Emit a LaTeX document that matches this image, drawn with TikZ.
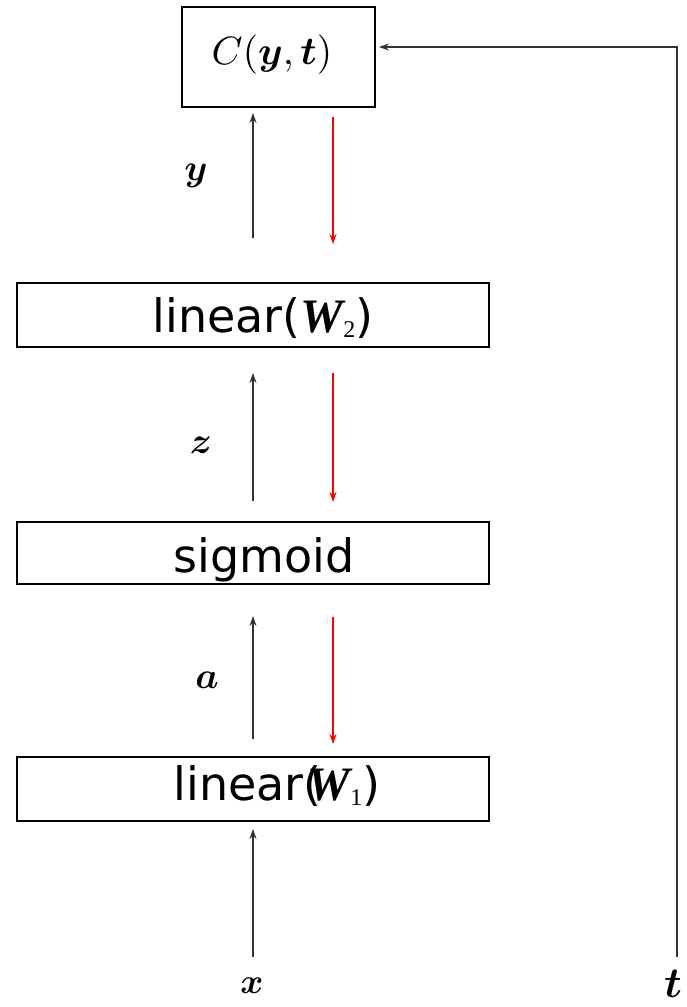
\documentclass[tikz,border=0pt]{standalone}
\usepackage{amsmath,bm}
\usepackage{graphicx}
\usepackage{fontspec}
\newfontfamily\boxfont{DejaVu Sans}
\newfontfamily\wfont{Liberation Serif}
\usetikzlibrary{arrows.meta,calc}
\tikzset{
  layerbox/.style={draw=black, line width=2pt, minimum width=472pt, inner sep=0pt},
  fwd/.style={-{Stealth[length=10pt,width=7pt]}, line width=1.3pt, black!80},
  bwd/.style={-{Stealth[length=10pt,width=7pt]}, line width=1.3pt, red},
  boxtxt/.style={font=\boxfont\fontsize{46}{50}\selectfont, inner sep=0pt, anchor=base},
  mlbl/.style={inner sep=0pt},
}
\newcommand{\Wsub}[1]{{\wfont\bfseries\itshape\fontsize{48}{50}\selectfont W}{\wfont\fontsize{24}{24}\selectfont\raisebox{-5pt}{#1}}}
\newcommand{\scaledmath}[2]{\scalebox{#1}{$#2$}}
\begin{document}
\begin{tikzpicture}[x=1pt,y=-1pt]
\useasboundingbox (0,0) rectangle (687,1007);
% boxes
\node[draw=black, line width=2pt, minimum width=193pt, minimum height=100pt, inner sep=0pt] (cost) at (278.5,57) {};
\node[inner sep=0pt] (ctxt) at (272,55) {\scaledmath{3.95}{C(\bm{y},\bm{t})}};
\node[layerbox, minimum height=64pt] (l2) at (253,315) {};
\node[boxtxt] (l2txt) at (263,332) {linear(\Wsub{2})};
\node[layerbox, minimum height=62pt] (sig) at (253,553) {};
\node[boxtxt] (sigtxt) at (264,572) {sigmoid};
\node[layerbox, minimum height=64pt] (l1) at (253,789) {};
\node[boxtxt] (l1txt) at (277,800) {linear(\kern-14pt\Wsub{1})};
% labels
\node[mlbl] (ylbl) at (196,176) {\scaledmath{3.7}{\bm{y}}};
\node[mlbl] (zlbl) at (201,445) {\scaledmath{3.7}{\bm{z}}};
\node[mlbl] (albl) at (207,680) {\scaledmath{3.7}{\bm{a}}};
\node[mlbl] (xlbl) at (252,986) {\scaledmath{3.5}{\bm{x}}};
\node[mlbl] (tlbl) at (673,984) {\scaledmath{4.3}{\bm{t}}};
% free ends
\coordinate (xin) at (253,957);
\coordinate (tin) at (677,957);
% forward arrows
\draw[fwd, shorten <=44pt, shorten >=5pt] (l2.north) -- (l2.north |- cost.south);
\draw[fwd, shorten <=20pt, shorten >=25pt] (sig.north) -- (l2.south);
\draw[fwd, shorten <=17pt, shorten >=31pt] (l1.north) -- (sig.south);
\draw[fwd, shorten >=7pt] (xin) -- (l1.south);
\draw[fwd, shorten >=3pt] (tin) |- ([yshift=10pt]cost.east);
% backward arrows
\draw[bwd, shorten <=9pt, shorten >=38pt] ([xshift=80pt]l2.north |- cost.south) -- ([xshift=80pt]l2.north);
\draw[bwd, shorten <=25pt, shorten >=19pt] ([xshift=80pt]l2.south) -- ([xshift=80pt]sig.north);
\draw[bwd, shorten <=32pt, shorten >=12pt] ([xshift=80pt]sig.south) -- ([xshift=80pt]l1.north);
\end{tikzpicture}
\end{document}
